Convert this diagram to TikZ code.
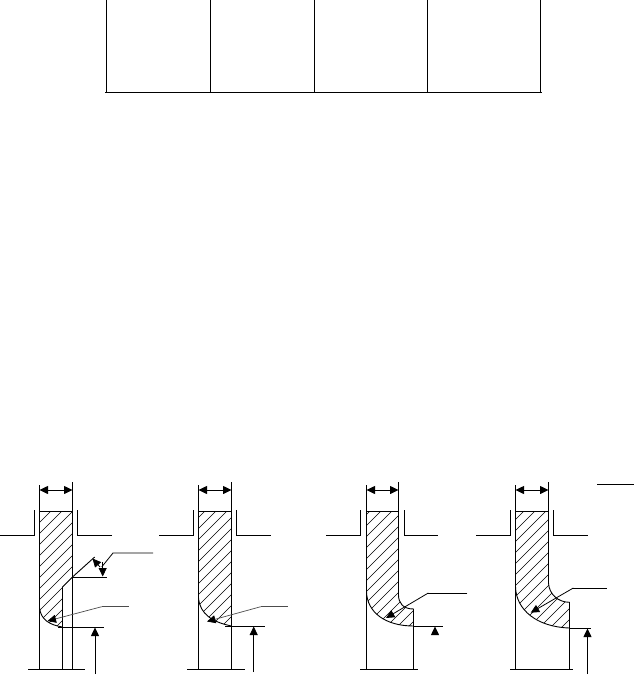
\documentclass[tikz,border=0pt]{standalone}
\usetikzlibrary{arrows.meta}
\tikzset{
    outline/.style={draw=black, line width=0.9pt},
    thinline/.style={draw=black, line width=0.8pt},
    leader/.style={draw=black!70, line width=0.7pt},
    hatchline/.style={draw=black, line width=0.6pt},
    leaderarrow/.style={draw=black, line width=0.8pt, -{Triangle[length=8.5pt,width=8pt]}},
    greyarrow/.style={draw=black!70, line width=0.7pt, -{Triangle[length=8.5pt,width=8pt,black]}},
    dimarrow/.style={draw=black, line width=0.8pt, -{Triangle[length=8.5pt,width=8pt]}},
    twoarrow/.style={draw=black, line width=0.8pt, {Triangle[length=8.5pt,width=8pt]}-{Triangle[length=8.5pt,width=8pt]}}
}
\newcommand{\hatchlines}{
    \foreach \c in {540,551,...,1210} {
        \draw [hatchline] (\c-450,450) -- (\c-700,700);
    }
}
\begin{document}
\begin{tikzpicture}[x=1pt, y=-1pt]
    \useasboundingbox (0,0) rectangle (634,677);

    % table at the top
    \draw [outline] (105,92.5) -- (542,92.5);
    \foreach \x in {106.5,210.5,314.5,427.5,540.5} {
        \draw [outline] (\x,0) -- (\x,92.5);
    }

    % first part
    \begin{scope}
        \clip (39.5,511) -- (72.5,511) -- (72.5,577) -- (62.5,587) -- (62.5,627)
            .. controls (50,625) and (41,620) .. (39.5,608) -- cycle;
        \hatchlines
    \end{scope}
    \coordinate (aChamfer) at (72.5,577);
    \coordinate (aStep) at (62.5,587);
    \coordinate (aFoot) at (62.5,627);
    \coordinate (aLeaderA) at (113,553);
    \coordinate (aLeaderB) at (101.7,606.7);
    \draw [outline] (39.5,485) -- (39.5,669);
    \draw [outline] (72.5,482) -- (72.5,669);
    \draw [outline] (39.5,511) -- (72.5,511);
    \draw [outline] (aStep) -- (62.5,669);
    \draw [outline] (94.7,557) -- (aChamfer) -- (aStep);
    \draw [thinline] (aChamfer) -- (106.7,577);
    \draw [outline] (39.5,608) .. controls (41,620) and (50,625) .. (aFoot);
    \draw [thinline] (58,627) -- (104,627);
    \draw [thinline] (28,669) -- (84.7,669);
    \draw [thinline] (0,535.5) -- (34.5,535.5) -- (34.5,510);
    \draw [thinline] (112,535.5) -- (77.5,535.5) -- (77.5,510);
    \draw [twoarrow] (39.5,490) -- (72.5,490);
    \draw [dimarrow] (95,674) -- (95,627.5);
    \draw [thinline] (153,553) -- (aLeaderA) -- (101.7,567);
    \draw [dimarrow] (100,567) -- (92.5,558.5);
    \draw [dimarrow] (102.7,562) -- (102.7,576.5);
    \draw [leader] (128.7,606.7) -- (aLeaderB);
    \draw [greyarrow] (aLeaderB) -- (47.5,621);

    % second part
    \begin{scope}
        \clip (198.5,511) -- (231.5,511) -- (231.5,626)
            .. controls (212,622) and (200,614) .. (198.5,598) -- cycle;
        \hatchlines
    \end{scope}
    \coordinate (bFoot) at (231.5,626);
    \coordinate (bLeader) at (260.7,606.7);
    \draw [outline] (198.5,485) -- (198.5,669);
    \draw [outline] (231.5,482) -- (231.5,669);
    \draw [outline] (198.5,511) -- (231.5,511);
    \draw [outline] (198.5,598) .. controls (200,614) and (212,622) .. (bFoot);
    \draw [thinline] (225,626) -- (265,626);
    \draw [thinline] (187.3,669) -- (244.7,669);
    \draw [thinline] (159,535.5) -- (193.5,535.5) -- (193.5,510);
    \draw [thinline] (270.7,535.5) -- (236.5,535.5) -- (236.5,510);
    \draw [twoarrow] (198.5,490) -- (231.5,490);
    \draw [dimarrow] (253.7,672) -- (253.7,626.5);
    \draw [leader] (287.7,606.7) -- (bLeader);
    \draw [greyarrow] (bLeader) -- (207,621.5);

    % third part
    \begin{scope}
        \clip (366.5,511) -- (398.5,511) -- (398.5,595)
            .. controls (398.5,603) and (403,609) .. (413.5,609) -- (413.5,626)
            .. controls (385,626) and (367,612) .. (366.5,591.7) -- cycle;
        \hatchlines
    \end{scope}
    \coordinate (cNeck) at (413.5,609);
    \coordinate (cFoot) at (413.5,626);
    \coordinate (cLeader) at (428.3,593);
    \draw [outline] (366.5,485) -- (366.5,669);
    \draw [outline] (398.5,482) -- (398.5,595)
        .. controls (398.5,603) and (403,609) .. (cNeck) -- (413.5,669);
    \draw [outline] (366.5,511) -- (398.5,511);
    \draw [outline] (366.5,591.7) .. controls (367,612) and (385,626) .. (cFoot);
    \draw [thinline] (cFoot) -- (442.7,626);
    \draw [thinline] (360,669) -- (417.7,669);
    \draw [thinline] (326,535.5) -- (360.5,535.5) -- (360.5,510);
    \draw [thinline] (437.7,535.5) -- (404.5,535.5) -- (404.5,510);
    \draw [twoarrow] (366.5,490) -- (398.5,490);
    \draw [dimarrow] (435,633) -- (435,626.5);
    \draw [thinline] (467.3,593) -- (cLeader);
    \draw [leaderarrow] (cLeader) -- (386,618);

    % fourth part
    \begin{scope}
        \clip (515.5,511) -- (548.5,511) -- (548.5,583)
            .. controls (549,594) and (558,602.3) .. (569.5,602.3) -- (569.5,628)
            .. controls (537,627) and (516,610) .. (515.5,586.7) -- cycle;
        \hatchlines
    \end{scope}
    \coordinate (dNeck) at (569.5,602.3);
    \coordinate (dFoot) at (569.5,628);
    \coordinate (dLeader) at (573.3,588);
    \draw [outline] (515.5,485) -- (515.5,669);
    \draw [outline] (548.5,482) -- (548.5,583)
        .. controls (549,594) and (558,602.3) .. (dNeck) -- (569.5,669);
    \draw [outline] (515.5,511) -- (548.5,511);
    \draw [outline] (515.5,586.7) .. controls (516,610) and (537,627) .. (dFoot);
    \draw [thinline] (dFoot) -- (590.7,628);
    \draw [thinline] (510,669) -- (573,669);
    \draw [thinline] (476,535.5) -- (510.5,535.5) -- (510.5,510);
    \draw [thinline] (587.7,535.5) -- (553.5,535.5) -- (553.5,510);
    \draw [twoarrow] (515.5,490) -- (548.5,490);
    \draw [dimarrow] (587.5,674) -- (587.5,628.5);
    \draw [thinline] (606.7,588) -- (dLeader);
    \draw [leaderarrow] (dLeader) -- (530.7,612.7);
    \draw [thinline] (597.3,484.5) -- (634,484.5);
\end{tikzpicture}
\end{document}
